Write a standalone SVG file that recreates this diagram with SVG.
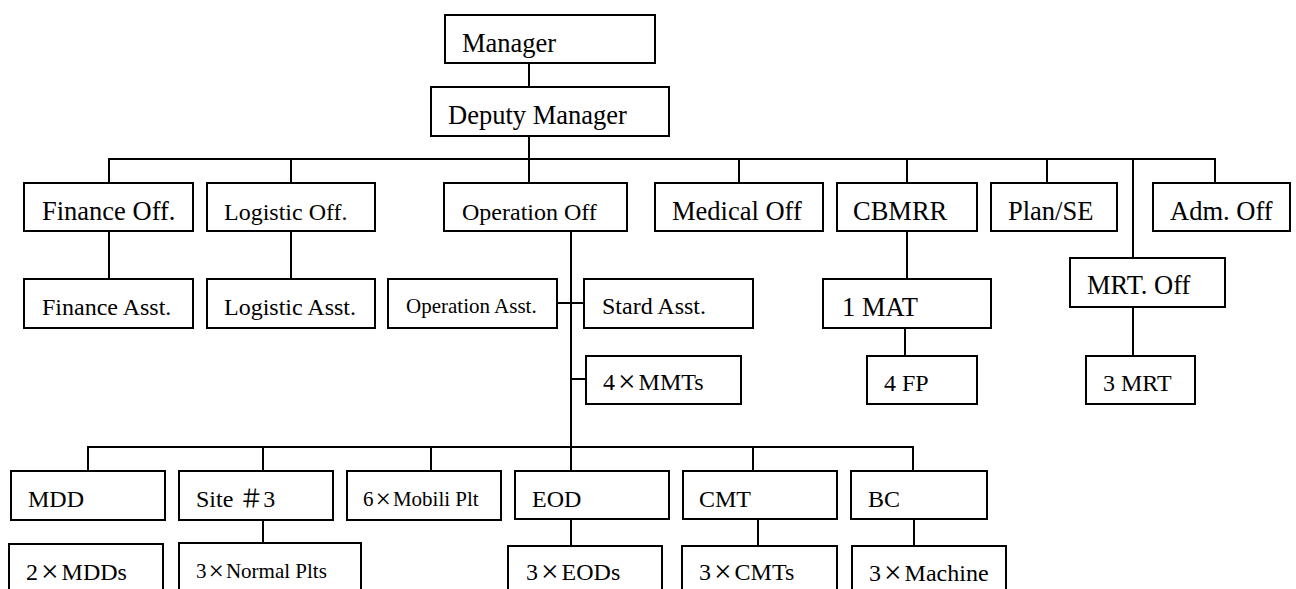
<svg xmlns="http://www.w3.org/2000/svg" width="1296" height="589" viewBox="0 0 1296 589">
<style>
  .box { fill: #ffffff; stroke: #000000; stroke-width: 2; }
  .t { font-family: "Liberation Serif", "Noto Sans CJK SC", serif; fill: #000000; font-size: 24px; }
  .L { font-size: 26.5px; }
  .S { font-size: 21px; }
  .x { font-size: 130%; }
  #connectors line { stroke: #000000; stroke-width: 2; }
</style>
<rect width="1296" height="589" fill="#ffffff"/>
<g id="connectors">
  <line x1="529" y1="63" x2="529" y2="87"/>
  <line x1="529" y1="136" x2="529" y2="183"/>
  <line x1="108" y1="159" x2="1216" y2="159"/>
  <line x1="109" y1="158" x2="109" y2="183"/>
  <line x1="291" y1="159" x2="291" y2="183"/>
  <line x1="739" y1="159" x2="739" y2="183"/>
  <line x1="907" y1="159" x2="907" y2="183"/>
  <line x1="1047" y1="159" x2="1047" y2="183"/>
  <line x1="1215" y1="158" x2="1215" y2="183"/>
  <line x1="1133" y1="159" x2="1133" y2="258"/>
  <line x1="109" y1="231" x2="109" y2="279"/>
  <line x1="291" y1="231" x2="291" y2="279"/>
  <line x1="907" y1="231" x2="907" y2="279"/>
  <line x1="905" y1="328" x2="905" y2="356"/>
  <line x1="1133" y1="307" x2="1133" y2="356"/>
  <line x1="571" y1="229" x2="571" y2="471"/>
  <line x1="557" y1="303" x2="584" y2="303"/>
  <line x1="571" y1="379" x2="586" y2="379"/>
  <line x1="87" y1="447" x2="914" y2="447"/>
  <line x1="88" y1="446" x2="88" y2="471"/>
  <line x1="263" y1="447" x2="263" y2="471"/>
  <line x1="431" y1="447" x2="431" y2="471"/>
  <line x1="753" y1="447" x2="753" y2="471"/>
  <line x1="913" y1="446" x2="913" y2="471"/>
  <line x1="263" y1="520" x2="263" y2="543"/>
  <line x1="571" y1="519" x2="571" y2="546"/>
  <line x1="758" y1="519" x2="758" y2="546"/>
  <line x1="914" y1="519" x2="914" y2="546"/>
</g>
<g id="manager"><rect class="box" x="445" y="15" width="210" height="48"/><text class="t L" x="462" y="52">Manager</text></g>
<g id="deputy"><rect class="box" x="431" y="87" width="238" height="49"/><text class="t L" x="448" y="124">Deputy Manager</text></g>
<g id="finance-off"><rect class="box" x="24" y="183" width="169" height="48"/><text class="t L" x="42" y="220">Finance Off.</text></g>
<g id="logistic-off"><rect class="box" x="207" y="183" width="168" height="48"/><text class="t" x="224" y="220">Logistic Off.</text></g>
<g id="operation-off"><rect class="box" x="444" y="183" width="183" height="48"/><text class="t" x="462" y="220">Operation Off</text></g>
<g id="medical-off"><rect class="box" x="655" y="183" width="168" height="48"/><text class="t L" x="672" y="220">Medical Off</text></g>
<g id="cbmrr"><rect class="box" x="837" y="183" width="140" height="48"/><text class="t L" x="853" y="220">CBMRR</text></g>
<g id="plan-se"><rect class="box" x="991" y="183" width="126" height="48"/><text class="t L" x="1008" y="220">Plan/SE</text></g>
<g id="adm-off"><rect class="box" x="1153" y="183" width="137" height="48"/><text class="t L" x="1170" y="220">Adm. Off</text></g>
<g id="finance-asst"><rect class="box" x="24" y="279" width="169" height="49"/><text class="t" x="42" y="315">Finance Asst.</text></g>
<g id="logistic-asst"><rect class="box" x="207" y="279" width="168" height="49"/><text class="t" x="224" y="315">Logistic Asst.</text></g>
<g id="operation-asst"><rect class="box" x="388" y="279" width="169" height="49"/><text class="t S" x="406" y="313">Operation Asst.</text></g>
<g id="stard-asst"><rect class="box" x="584" y="279" width="169" height="49"/><text class="t" x="602" y="314">Stard Asst.</text></g>
<g id="one-mat"><rect class="box" x="823" y="279" width="168" height="49"/><text class="t L" x="842" y="316">1 MAT</text></g>
<g id="mrt-off"><rect class="box" x="1070" y="258" width="155" height="49"/><text class="t L" x="1087" y="294">MRT. Off</text></g>
<g id="mmts"><rect class="box" x="586" y="356" width="155" height="48"/><text class="t" x="603" y="390">4<tspan class="x" dx="3" dy="2">×</tspan><tspan dx="3" dy="-2">MMTs</tspan></text></g>
<g id="four-fp"><rect class="box" x="867" y="356" width="110" height="48"/><text class="t" x="884" y="391">4 FP</text></g>
<g id="three-mrt"><rect class="box" x="1086" y="356" width="109" height="48"/><text class="t" x="1103" y="391">3 MRT</text></g>
<g id="mdd"><rect class="box" x="11" y="471" width="154" height="49"/><text class="t" x="28" y="507">MDD</text></g>
<g id="site3"><rect class="box" x="179" y="471" width="154" height="49"/><text class="t" x="196" y="507">Site ＃3</text></g>
<g id="mobili"><rect class="box" x="347" y="471" width="154" height="49"/><text class="t S" x="363" y="506">6<tspan class="x" dx="2" dy="2">×</tspan><tspan dx="2" dy="-2">Mobili Plt</tspan></text></g>
<g id="eod"><rect class="box" x="515" y="471" width="154" height="48"/><text class="t" x="532" y="507">EOD</text></g>
<g id="cmt"><rect class="box" x="683" y="471" width="154" height="48"/><text class="t" x="699" y="507">CMT</text></g>
<g id="bc"><rect class="box" x="851" y="471" width="136" height="48"/><text class="t" x="868" y="507">BC</text></g>
<g id="mdds"><rect class="box" x="9" y="544" width="154" height="60"/><text class="t" x="26" y="580">2<tspan class="x" dx="3" dy="2">×</tspan><tspan dx="3" dy="-2">MDDs</tspan></text></g>
<g id="normal-plts"><rect class="box" x="179" y="543" width="182" height="60"/><text class="t S" x="196" y="578">3<tspan class="x" dx="2" dy="2">×</tspan><tspan dx="2" dy="-2">Normal Plts</tspan></text></g>
<g id="eods"><rect class="box" x="508" y="546" width="154" height="60"/><text class="t" x="526" y="580">3<tspan class="x" dx="3" dy="2">×</tspan><tspan dx="3" dy="-2">EODs</tspan></text></g>
<g id="cmts"><rect class="box" x="682" y="546" width="155" height="60"/><text class="t" x="699" y="580">3<tspan class="x" dx="3" dy="2">×</tspan><tspan dx="3" dy="-2">CMTs</tspan></text></g>
<g id="machine"><rect class="box" x="852" y="546" width="154" height="60"/><text class="t" x="869" y="581">3<tspan class="x" dx="3" dy="2">×</tspan><tspan dx="3" dy="-2">Machine</tspan></text></g>
</svg>
